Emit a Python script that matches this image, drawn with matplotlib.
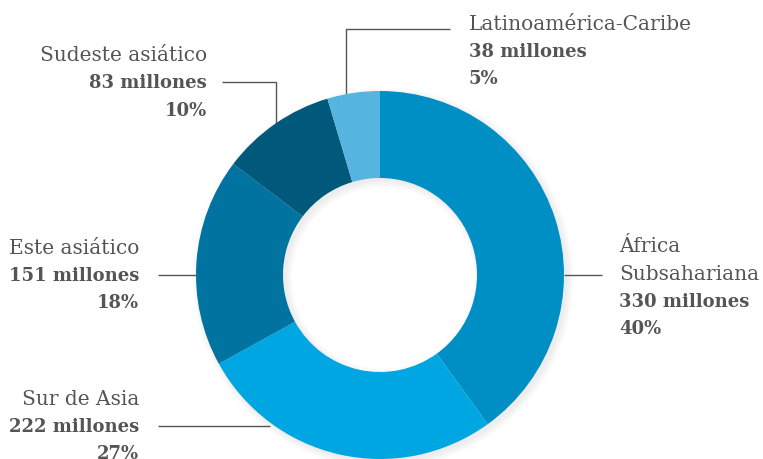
import numpy as np
import matplotlib.pyplot as plt
from matplotlib.patches import Wedge

# Población por región (millones)
regiones = ["África\nSubsahariana", "Sur de Asia", "Este asiático",
            "Sudeste asiático", "Latinoamérica-Caribe"]
millones = [330, 222, 151, 83, 38]
porcentajes = [40, 27, 18, 10, 5]
colores = ["#008fc5", "#00a6e2", "#0073a1", "#00587a", "#56b4e0"]

W, H = 763, 460
gris = "#555555"
fuente = "DejaVu Serif"

fig = plt.figure(figsize=(W / 100, H / 100), dpi=100)
ax = fig.add_axes([0, 0, 1, 1])

cx, cy = 380, H - 276
r_ext, ancho = 184, 87

# sombra suave detrás del anillo
for k in range(6):
    ax.add_patch(Wedge((cx + 3, cy - 3), r_ext + k * 1.3, 0, 360,
                       width=ancho + k * 2.6, facecolor="black",
                       edgecolor="none", alpha=0.01, zorder=0))

ax.pie(millones, colors=colores, startangle=90, counterclock=False,
       center=(cx, cy), radius=r_ext,
       wedgeprops=dict(width=ancho, edgecolor="none", zorder=1))

ax.set_xlim(0, W)
ax.set_ylim(0, H)
ax.set_aspect("equal")
ax.axis("off")


def etiqueta(x, y, nombre, valor, pct, ha):
    # y = posición (desde arriba) de la línea con los millones
    lineas_nombre = nombre.split("\n")
    paso = 27.5
    y0 = y - paso * len(lineas_nombre)
    for i, t in enumerate(lineas_nombre):
        ax.text(x, H - (y0 + i * paso), t, ha=ha, va="center",
                fontsize=14.5, color=gris, family=fuente)
    ax.text(x, H - y, f"{valor} millones", ha=ha, va="center",
            fontsize=13, color=gris, family=fuente, fontweight="bold")
    ax.text(x, H - (y + paso), f"{pct}%", ha=ha, va="center",
            fontsize=13, color=gris, family=fuente, fontweight="bold")


def linea(xs, ys):
    ax.plot(xs, [H - v for v in ys], color=gris, lw=1, zorder=0.5,
            solid_capstyle="butt")


etiqueta(619, 302, regiones[0], millones[0], porcentajes[0], "left")
linea([564, 602], [276, 276])

etiqueta(139, 427, regiones[1], millones[1], porcentajes[1], "right")
linea([158, 270], [427, 427])

etiqueta(139, 276, regiones[2], millones[2], porcentajes[2], "right")
linea([158, 197], [276, 276])

etiqueta(207, 83, regiones[3], millones[3], porcentajes[3], "right")
linea([222, 276, 276], [83, 83, 125])

etiqueta(469, 52, regiones[4], millones[4], porcentajes[4], "left")
linea([450, 346, 346], [30, 30, 96])

fig.savefig("out.png", dpi=100, facecolor="white")
